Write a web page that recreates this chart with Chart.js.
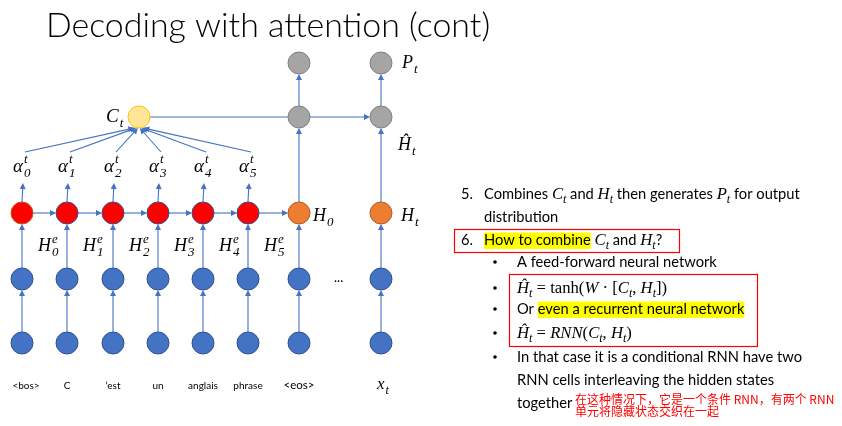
<!DOCTYPE html>
<html>
<head>
<meta charset="utf-8">
<style>
html, body { margin: 0; padding: 0; background: #fff; overflow: hidden; }
</style>
<script src="https://cdn.jsdelivr.net/npm/chart.js@4.4.0/dist/chart.umd.min.js"></script>
</head>
<body>
<canvas id="myChart" width="842" height="426"></canvas>
<script>
// diagram data (diagram units, 1 unit = 1 px on the 842x426 slide)
var tokens = ['<bos>', 'C', '\u2019est', 'un', 'anglais', 'phrase', '<eos>'];
var encoderX = [22, 67, 113, 158, 203, 248];
var eosX = 299;
var stepX = 381;
var contextX = 139;
var rows = [343, 279, 213, 170, 117, 63]; // input, embedding, hidden, alpha, context, output
var alphaIdx = ['0', '1', '2', '3', '4', '5'];
var hiddenIdx = ['0', '1', '2', '3', '4', '5'];

var inputCols = encoderX.concat([eosX, stepX]);
var decoderCols = [eosX, stepX];

function pts(xs, y) {
	return xs.map(function (x) { return { x: x, y: y }; });
}

var SERIF = '"Liberation Serif", "DejaVu Serif", serif';
var SANS = 'Lato, "Open Sans", sans-serif';
var BLUE = '#4472C4';

function arrow(ctx, x1, y1, x2, y2) {
	var a = Math.atan2(y2 - y1, x2 - x1);
	ctx.beginPath();
	ctx.moveTo(x1, y1);
	ctx.lineTo(x2 - 4 * Math.cos(a), y2 - 4 * Math.sin(a));
	ctx.stroke();
	ctx.beginPath();
	ctx.moveTo(x2, y2);
	ctx.lineTo(x2 - 6 * Math.cos(a) + 3 * Math.sin(a), y2 - 6 * Math.sin(a) - 3 * Math.cos(a));
	ctx.lineTo(x2 - 6 * Math.cos(a) - 3 * Math.sin(a), y2 - 6 * Math.sin(a) + 3 * Math.cos(a));
	ctx.closePath();
	ctx.fill();
}

// italic math symbol with optional sub / sup
function sym(ctx, x, y, base, sub, sup, size) {
	ctx.font = 'italic ' + size + 'px ' + SERIF;
	ctx.fillText(base, x, y);
	var w = ctx.measureText(base).width;
	ctx.font = 'italic ' + Math.round(size * 0.7) + 'px ' + SERIF;
	if (sub) ctx.fillText(sub, x + w + 1, y + size * 0.28);
	if (sup) ctx.fillText(sup, x + w + 1, y - size * 0.45);
}

// one line of mixed text; kinds: n normal, m math italic, s subscript, r roman serif
function rich(ctx, x, y, segs, size) {
	segs.forEach(function (s) {
		var t = s[0], k = s[1], dy = 0;
		if (k === 'm') ctx.font = 'italic ' + (size + 2) + 'px ' + SERIF;
		else if (k === 's') { ctx.font = 'italic ' + Math.round(size * 0.8) + 'px ' + SERIF; dy = size * 0.3; }
		else if (k === 'r') ctx.font = (size + 2) + 'px ' + SERIF;
		else ctx.font = size + 'px ' + SANS;
		var w = ctx.measureText(t).width;
		if (s[2]) {
			ctx.fillStyle = '#FFFF00';
			ctx.fillRect(x, y - size * 0.85, w, size * 1.12);
		}
		ctx.fillStyle = '#000';
		ctx.fillText(t, x, y + dy);
		x += w;
	});
	return x;
}

var diagram = {
	id: 'diagram',
	beforeDatasetsDraw: function (chart) {
		var ctx = chart.ctx, sx = chart.scales.x, sy = chart.scales.y;
		var X = function (v) { return sx.getPixelForValue(v); };
		var Y = function (v) { return sy.getPixelForValue(v); };
		ctx.save();
		ctx.strokeStyle = BLUE;
		ctx.fillStyle = BLUE;
		ctx.lineWidth = 1.1;
		// input -> embedding -> hidden
		inputCols.forEach(function (c) {
			arrow(ctx, X(c), Y(rows[0]) - 11, X(c), Y(rows[1]) + 11);
			arrow(ctx, X(c), Y(rows[1]) - 11, X(c), Y(rows[2]) + 11);
		});
		// encoder recurrence, last one into H0
		var chain = encoderX.concat([eosX]);
		for (var i = 0; i < chain.length - 1; i++) {
			arrow(ctx, X(chain[i]) + 11, Y(rows[2]), X(chain[i + 1]) - 11, Y(rows[2]));
		}
		// hidden -> alpha -> context
		encoderX.forEach(function (c, i) {
			arrow(ctx, X(c), Y(rows[2]) - 11, X(c + 1), Y(rows[3]) + 13);
			var ex = contextX + (c - contextX) * 0.04;
			arrow(ctx, X(c + 3), Y(rows[3]) - 18, X(ex), Y(rows[4]) + 11);
		});
		// decoder columns
		decoderCols.forEach(function (c) {
			arrow(ctx, X(c), Y(rows[2]) - 11, X(c), Y(rows[4]) + 11);
			arrow(ctx, X(c), Y(rows[4]) - 11, X(c), Y(rows[5]) + 11);
		});
		arrow(ctx, X(contextX) + 11, Y(rows[4]), X(stepX) - 11, Y(rows[4]));
		ctx.restore();
	},
	afterDatasetsDraw: function (chart) {
		var ctx = chart.ctx, sx = chart.scales.x, sy = chart.scales.y;
		var X = function (v) { return sx.getPixelForValue(v); };
		var Y = function (v) { return sy.getPixelForValue(v); };
		ctx.save();
		ctx.fillStyle = '#000';
		ctx.textBaseline = 'alphabetic';

		// title, fitted to the slide title width
		var title = 'Decoding with attention (cont)';
		ctx.font = '300 34px Lato, "Open Sans", sans-serif';
		var tw = ctx.measureText(title).width;
		var ts = 34 * 444 / tw;
		ctx.font = '300 ' + ts.toFixed(1) + 'px Lato, "Open Sans", sans-serif';
		ctx.fillText(title, 46, 37);

		// diagram labels
		sym(ctx, X(contextX) - 33, Y(rows[4]) + 5, 'C', 't', null, 19);
		sym(ctx, X(stepX) + 21, Y(rows[5]) + 5, 'P', 't', null, 18);
		sym(ctx, X(stepX) + 17, Y(rows[4]) + 33, '\u0124', 't', null, 18);
		sym(ctx, X(eosX) + 14, Y(rows[2]) + 8, 'H', '0', null, 18);
		sym(ctx, X(stepX) + 20, Y(rows[2]) + 8, 'H', 't', null, 18);
		encoderX.forEach(function (c, i) {
			sym(ctx, X(c) - 9, Y(rows[3]) + 2, '\u03b1', alphaIdx[i], 't', 19);
			sym(ctx, X(c) + 16, Y(rows[2]) + 38, 'H', hiddenIdx[i], 'e', 18);
		});
		ctx.textAlign = 'center';
		tokens.forEach(function (t, i) {
			ctx.font = (t === '<eos>' ? 11.5 : 10) + 'px ' + SANS;
			ctx.fillText(t, X(inputCols[i]) + (i === 0 ? 4 : 0), Y(rows[0]) + 46);
		});
		ctx.textAlign = 'left';
		sym(ctx, X(stepX) - 4, Y(rows[0]) + 46, 'x', 't', null, 17);
		ctx.font = '13px ' + SANS;
		ctx.fillText('...', X(340) - 6, Y(rows[1]) + 3);

		// right text block
		ctx.font = '15px ' + SANS;
		var fs = 15 * 200 / ctx.measureText('A feed-forward neural network').width;
		fs = Math.round(fs * 10) / 10;
		var N = 484, B = 517;
		ctx.font = fs + 'px ' + SANS;
		ctx.fillText('5.', 461, 199);
		rich(ctx, N, 199, [['Combines ', 'n'], ['C', 'm'], ['t', 's'], [' and ', 'n'], ['H', 'm'], ['t', 's'],
			[' then generates ', 'n'], ['P', 'm'], ['t', 's'], [' for output', 'n']], fs);
		rich(ctx, N, 222, [['distribution', 'n']], fs);
		ctx.font = fs + 'px ' + SANS;
		ctx.fillText('6.', 461, 245);
		rich(ctx, N, 245, [['How to combine', 'n', 1], [' ', 'n'], ['C', 'm'], ['t', 's'], [' and ', 'n'], ['H', 'm'], ['t', 's'], ['?', 'n']], fs);
		var bullets = [267, 293, 314, 338, 362];
		bullets.forEach(function (by) {
			ctx.beginPath();
			ctx.arc(495, by - 5, 1.8, 0, Math.PI * 2);
			ctx.fill();
		});
		rich(ctx, B, 267, [['A feed-forward neural network', 'n']], fs);
		rich(ctx, B, 293, [['\u0124', 'm'], ['t', 's'], [' = tanh(', 'r'], ['W', 'm'], [' \u00b7 [', 'r'], ['C', 'm'], ['t', 's'],
			[', ', 'r'], ['H', 'm'], ['t', 's'], ['])', 'r']], fs);
		rich(ctx, B, 314, [['Or ', 'n'], ['even a recurrent neural network', 'n', 1]], fs);
		rich(ctx, B, 338, [['\u0124', 'm'], ['t', 's'], [' = ', 'r'], ['RNN', 'm'], ['(', 'r'], ['C', 'm'], ['t', 's'],
			[', ', 'r'], ['H', 'm'], ['t', 's'], [')', 'r']], fs);
		rich(ctx, B, 362, [['In that case it is a conditional RNN have two', 'n']], fs);
		rich(ctx, B, 385, [['RNN cells interleaving the hidden states', 'n']], fs);
		rich(ctx, B, 408, [['together', 'n']], fs);

		ctx.fillStyle = '#FF0000';
		ctx.font = '12px "Noto Sans CJK SC", sans-serif';
		ctx.fillText('\u5728\u8fd9\u79cd\u60c5\u51b5\u4e0b\uff0c\u5b83\u662f\u4e00\u4e2a\u6761\u4ef6 RNN\uff0c\u6709\u4e24\u4e2a RNN', 575, 404);
		ctx.fillText('\u5355\u5143\u5c06\u9690\u85cf\u72b6\u6001\u4ea4\u7ec7\u5728\u4e00\u8d77', 575, 416);

		// red boxes
		ctx.strokeStyle = '#FF0000';
		ctx.lineWidth = 1.2;
		ctx.strokeRect(454.5, 229.5, 225, 23);
		ctx.strokeRect(509.5, 274.5, 248, 72);
		ctx.restore();
	}
};

var ctx = document.getElementById('myChart').getContext('2d');
var chart = new Chart(ctx, {
	type: 'scatter',
	data: {
		datasets: [
			{ data: pts(inputCols, rows[0]), backgroundColor: BLUE, borderColor: '#2F528F' },
			{ data: pts(inputCols, rows[1]), backgroundColor: BLUE, borderColor: '#2F528F' },
			{ data: pts(encoderX, rows[2]), backgroundColor: '#FF0000',
				borderColor: ['#C55A11', '#2F528F', '#2F528F', '#2F528F', '#2F528F', '#2F528F'] },
			{ data: pts(decoderCols, rows[2]), backgroundColor: '#ED7D31', borderColor: '#AE5A21' },
			{ data: pts([contextX], rows[4]), backgroundColor: '#FFE699', borderColor: '#FFC000' },
			{ data: pts(decoderCols, rows[4]), backgroundColor: '#A5A5A5', borderColor: '#7F7F7F' },
			{ data: pts(decoderCols, rows[5]), backgroundColor: '#A5A5A5', borderColor: '#7F7F7F' }
		]
	},
	options: {
		responsive: false,
		animation: false,
		layout: { padding: 0, autoPadding: false },
		elements: { point: { radius: 11, hoverRadius: 11, borderWidth: 1 } },
		plugins: { legend: { display: false }, tooltip: { enabled: false } },
		scales: {
			x: { type: 'linear', min: 0, max: 842, display: false },
			y: { type: 'linear', min: 0, max: 426, reverse: true, display: false }
		}
	},
	plugins: [diagram]
});
</script>
</body>
</html>
